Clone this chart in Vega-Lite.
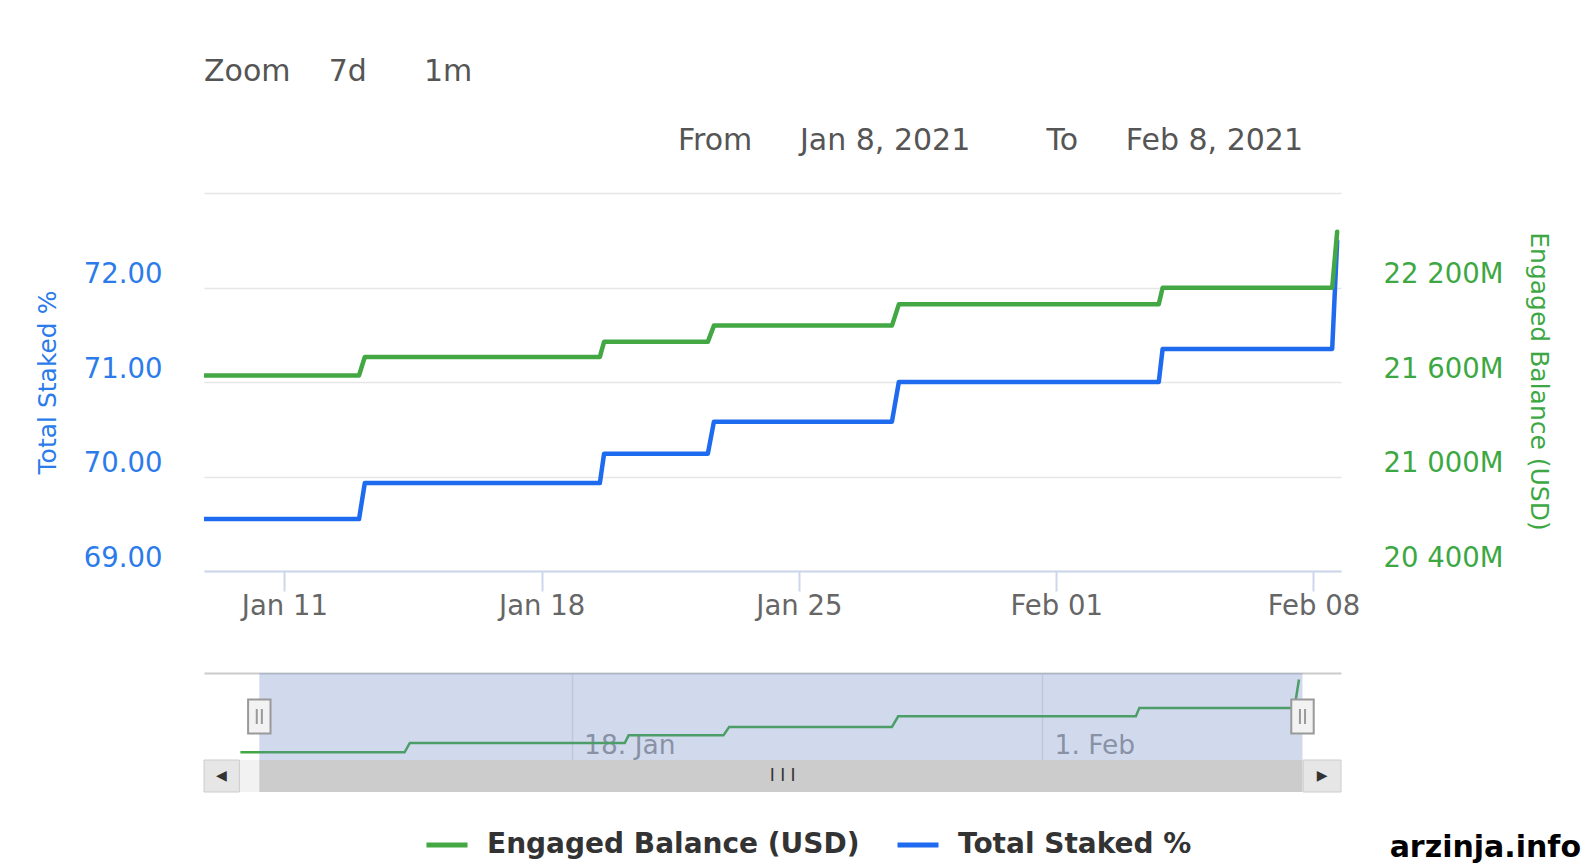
{
  "$schema": "https://vega.github.io/schema/vega-lite/v6.json",
  "padding": {"left": 35, "top": 57, "right": 0, "bottom": 0},
  "title": {
    "text": "Zoom\u00a0\u00a0\u00a0\u00a07d\u00a0\u00a0\u00a0\u00a0\u00a0\u00a01m",
    "anchor": "start",
    "frame": "group",
    "offset": 39,
    "font": "DejaVu Sans",
    "fontSize": 30,
    "fontWeight": "normal",
    "color": "#555555"
  },
  "datasets": {
    "series": [
      {"t": "2021-01-08T03:30:00Z", "series": "Total Staked %", "value": 69.55},
      {"t": "2021-01-13T00:45:00Z", "series": "Total Staked %", "value": 69.55},
      {"t": "2021-01-13T04:30:00Z", "series": "Total Staked %", "value": 69.93},
      {"t": "2021-01-19T14:00:00Z", "series": "Total Staked %", "value": 69.93},
      {"t": "2021-01-19T16:45:00Z", "series": "Total Staked %", "value": 70.24},
      {"t": "2021-01-22T12:30:00Z", "series": "Total Staked %", "value": 70.24},
      {"t": "2021-01-22T16:30:00Z", "series": "Total Staked %", "value": 70.58},
      {"t": "2021-01-27T12:45:00Z", "series": "Total Staked %", "value": 70.58},
      {"t": "2021-01-27T17:15:00Z", "series": "Total Staked %", "value": 71.0},
      {"t": "2021-02-03T19:00:00Z", "series": "Total Staked %", "value": 71.0},
      {"t": "2021-02-03T21:30:00Z", "series": "Total Staked %", "value": 71.35},
      {"t": "2021-02-08T12:15:00Z", "series": "Total Staked %", "value": 71.35},
      {"t": "2021-02-08T15:30:00Z", "series": "Total Staked %", "value": 72.49},
      {"t": "2021-01-08T03:30:00Z", "series": "Engaged Balance (USD)", "value": 21642},
      {"t": "2021-01-13T00:45:00Z", "series": "Engaged Balance (USD)", "value": 21642},
      {"t": "2021-01-13T04:30:00Z", "series": "Engaged Balance (USD)", "value": 21759},
      {"t": "2021-01-19T14:00:00Z", "series": "Engaged Balance (USD)", "value": 21759},
      {"t": "2021-01-19T16:45:00Z", "series": "Engaged Balance (USD)", "value": 21855},
      {"t": "2021-01-22T12:30:00Z", "series": "Engaged Balance (USD)", "value": 21855},
      {"t": "2021-01-22T16:30:00Z", "series": "Engaged Balance (USD)", "value": 21958},
      {"t": "2021-01-27T12:45:00Z", "series": "Engaged Balance (USD)", "value": 21958},
      {"t": "2021-01-27T17:15:00Z", "series": "Engaged Balance (USD)", "value": 22093},
      {"t": "2021-02-03T19:00:00Z", "series": "Engaged Balance (USD)", "value": 22093},
      {"t": "2021-02-03T21:30:00Z", "series": "Engaged Balance (USD)", "value": 22199},
      {"t": "2021-02-08T12:15:00Z", "series": "Engaged Balance (USD)", "value": 22199},
      {"t": "2021-02-08T15:30:00Z", "series": "Engaged Balance (USD)", "value": 22554}
    ],
    "selection": [
      {"from": "2021-01-08T17:00:00Z", "to": "2021-02-08T18:00:00Z"}
    ]
  },
  "spacing": 0,
  "bounds": "flush",
  "vconcat": [
    {
      "width": 1137,
      "height": 480,
      "title": {
        "text": "From\u00a0\u00a0\u00a0\u00a0\u00a0Jan 8, 2021\u00a0\u00a0\u00a0\u00a0\u00a0\u00a0\u00a0\u00a0To\u00a0\u00a0\u00a0\u00a0\u00a0Feb 8, 2021",
        "anchor": "end",
        "frame": "group",
        "dx": -38,
        "offset": 37,
        "font": "DejaVu Sans",
        "fontSize": 30,
        "fontWeight": "normal",
        "color": "#555555"
      },
      "data": {"name": "series"},
      "encoding": {
        "x": {
          "field": "t",
          "type": "temporal",
          "scale": {
            "type": "utc",
            "domain": [
              {"year": 2021, "month": "Jan", "date": 8, "hours": 19, "minutes": 30, "utc": true},
              {"year": 2021, "month": "Feb", "date": 8, "hours": 18, "minutes": 0, "utc": true}
            ]
          },
          "axis": {
            "orient": "bottom",
            "offset": -102,
            "values": [
              {"year": 2021, "month": "Jan", "date": 11, "utc": true},
              {"year": 2021, "month": "Jan", "date": 18, "utc": true},
              {"year": 2021, "month": "Jan", "date": 25, "utc": true},
              {"year": 2021, "month": "Feb", "date": 1, "utc": true},
              {"year": 2021, "month": "Feb", "date": 8, "utc": true}
            ],
            "labelExpr": "utcFormat(datum.value, '%b %d')",
            "labelFont": "DejaVu Sans",
            "labelFontSize": 27.5,
            "labelColor": "#666666",
            "labelBaseline": "alphabetic",
            "labelPadding": 23,
            "labelFlush": false,
            "tickSize": 20,
            "tickColor": "#ccd6eb",
            "tickWidth": 2,
            "domainColor": "#ccd6eb",
            "domainWidth": 2,
            "grid": false,
            "title": null
          }
        }
      },
      "layer": [
        {
          "transform": [{"filter": "datum.series === 'Total Staked %'"}],
          "mark": {"type": "line", "strokeWidth": 4.5, "clip": true, "strokeJoin": "round", "strokeCap": "round"},
          "encoding": {
            "y": {
              "field": "value",
              "type": "quantitative",
              "scale": {"domain": [69, 73], "range": [378, 0], "zero": false, "nice": false},
              "axis": {
                "orient": "left",
                "values": [69, 70, 71, 72, 73],
                "labelExpr": "datum.value == 73 ? '' : format(datum.value, '.2f')",
                "grid": true,
                "gridColor": "#e6e6e6",
                "gridWidth": 1.5,
                "domain": false,
                "ticks": false,
                "tickSize": 0,
                "labelPadding": 42,
                "labelFont": "DejaVu Sans",
                "labelFontSize": 27.5,
                "labelColor": "#2b7bea",
                "labelBaseline": "alphabetic",
                "labelOffset": -5,
                "title": "Total Staked %",
                "titleFont": "DejaVu Sans",
                "titleColor": "#2b7bea",
                "titleFontSize": 25,
                "titleFontWeight": "normal",
                "titleAngle": 270,
                "titleX": -149,
                "titleY": 189,
                "titleAlign": "center",
                "titleBaseline": "alphabetic"
              }
            },
            "color": {
              "field": "series",
              "type": "nominal",
              "scale": {"domain": ["Engaged Balance (USD)", "Total Staked %"], "range": ["#43a843", "#1f6bf0"]},
              "legend": {
                "orient": "none",
                "legendX": 220,
                "legendY": 629,
                "direction": "horizontal",
                "symbolType": "stroke",
                "symbolSize": 1681,
                "symbolStrokeWidth": 5,
                "labelFont": "DejaVu Sans",
                "labelFontWeight": "bold",
                "labelFontSize": 28,
                "labelColor": "#333333",
                "labelOffset": 17,
                "columnPadding": 27,
                "labelLimit": 600,
                "padding": 0,
                "title": null
              }
            }
          }
        },
        {
          "transform": [{"filter": "datum.series === 'Engaged Balance (USD)'"}],
          "mark": {"type": "line", "strokeWidth": 4.5, "clip": true, "strokeJoin": "round", "strokeCap": "round"},
          "encoding": {
            "y": {
              "field": "value",
              "type": "quantitative",
              "scale": {"domain": [20400, 22800], "range": [378, 0], "zero": false, "nice": false},
              "axis": {
                "orient": "right",
                "values": [20400, 21000, 21600, 22200, 22800],
                "labelExpr": "datum.value == 22800 ? '' : replace(format(datum.value, ','), ',', ' ') + 'M'",
                "grid": false,
                "domain": false,
                "ticks": false,
                "tickSize": 0,
                "labelPadding": 42,
                "labelFont": "DejaVu Sans",
                "labelFontSize": 27.5,
                "labelColor": "#3da843",
                "labelBaseline": "alphabetic",
                "labelOffset": -5,
                "title": "Engaged Balance (USD)",
                "titleFont": "DejaVu Sans",
                "titleColor": "#3da843",
                "titleFontSize": 25,
                "titleFontWeight": "normal",
                "titleAngle": 90,
                "titleX": 189,
                "titleY": 188,
                "titleAlign": "center",
                "titleBaseline": "alphabetic"
              }
            },
            "color": {
              "field": "series",
              "type": "nominal",
              "scale": {"domain": ["Engaged Balance (USD)", "Total Staked %"], "range": ["#43a843", "#1f6bf0"]},
              "legend": {
                "orient": "none",
                "legendX": 220,
                "legendY": 629,
                "direction": "horizontal",
                "symbolType": "stroke",
                "symbolSize": 1681,
                "symbolStrokeWidth": 5,
                "labelFont": "DejaVu Sans",
                "labelFontWeight": "bold",
                "labelFontSize": 28,
                "labelColor": "#333333",
                "labelOffset": 17,
                "columnPadding": 27,
                "labelLimit": 600,
                "padding": 0,
                "title": null
              }
            }
          }
        }
      ],
      "resolve": {"scale": {"y": "independent"}}
    },
    {
      "width": 1137,
      "height": 87,
      "layer": [
        {
          "data": {"name": "series"},
          "transform": [{"filter": "datum.series === 'Engaged Balance (USD)'"}],
          "mark": {"type": "line", "color": "#43a843", "strokeWidth": 2.5, "clip": true},
          "encoding": {
            "x": {
              "field": "t",
              "type": "temporal",
              "scale": {
                "type": "utc",
                "domain": [
                  {"year": 2021, "month": "Jan", "date": 7, "hours": 1, "minutes": 30, "utc": true},
                  {"year": 2021, "month": "Feb", "date": 9, "hours": 21, "minutes": 30, "utc": true}
                ]
              },
              "axis": {
                "orient": "bottom",
                "values": [
                  {"year": 2021, "month": "Jan", "date": 18, "utc": true},
                  {"year": 2021, "month": "Feb", "date": 1, "utc": true}
                ],
                "labelExpr": "utcFormat(datum.value, '%-d. %b')",
                "grid": true,
                "gridColor": "#e6e6e6",
                "gridWidth": 1.5,
                "domain": false,
                "ticks": false,
                "tickSize": 0,
                "labelPadding": -7,
                "labelBaseline": "alphabetic",
                "labelAlign": "left",
                "labelOffset": 12,
                "labelFont": "DejaVu Sans",
                "labelFontSize": 26.5,
                "labelColor": "#999999",
                "labelFlush": false,
                "title": null
              }
            },
            "y": {
              "field": "value",
              "type": "quantitative",
              "scale": {"domain": [21546, 22636], "zero": false, "nice": false},
              "axis": {
                "values": [22636],
                "grid": true,
                "gridColor": "#cccccc",
                "gridWidth": 2,
                "labels": false,
                "ticks": false,
                "domain": false,
                "title": null
              }
            }
          }
        },
        {
          "data": {"name": "selection"},
          "mark": {"type": "rect", "color": "#6685c2", "opacity": 0.3},
          "encoding": {
            "x": {"field": "from", "type": "temporal"},
            "x2": {"field": "to"}
          }
        },
        {
          "data": {"name": "selection"},
          "mark": {"type": "point", "shape": "M-0.66,-1L0.66,-1L0.66,1L-0.66,1Z", "size": 1156, "filled": true, "fill": "#f2f2f2", "stroke": "#999999", "strokeWidth": 2, "opacity": 1},
          "encoding": {"x": {"field": "from", "type": "temporal"}}
        },
        {
          "data": {"name": "selection"},
          "mark": {"type": "point", "shape": "M-0.66,-1L0.66,-1L0.66,1L-0.66,1Z", "size": 1156, "filled": true, "fill": "#f2f2f2", "stroke": "#999999", "strokeWidth": 2, "opacity": 1},
          "encoding": {"x": {"field": "to", "type": "temporal"}}
        },
        {
          "data": {"name": "selection"},
          "mark": {"type": "point", "shape": "M-0.15,-0.44L-0.15,0.44M0.15,-0.44L0.15,0.44", "size": 1156, "filled": false, "fill": "transparent", "stroke": "#999999", "strokeWidth": 2, "opacity": 1},
          "encoding": {"x": {"field": "from", "type": "temporal"}}
        },
        {
          "data": {"name": "selection"},
          "mark": {"type": "point", "shape": "M-0.15,-0.44L-0.15,0.44M0.15,-0.44L0.15,0.44", "size": 1156, "filled": false, "fill": "transparent", "stroke": "#999999", "strokeWidth": 2, "opacity": 1},
          "encoding": {"x": {"field": "to", "type": "temporal"}}
        }
      ]
    },
    {
      "width": 1137,
      "height": 32,
      "data": {"name": "selection"},
      "view": {"fill": "#f2f2f2", "stroke": null},
      "title": {
        "text": "arzinja.info",
        "orient": "bottom",
        "anchor": "end",
        "frame": "group",
        "dx": 240,
        "offset": 40,
        "baseline": "top",
        "font": "DejaVu Sans",
        "fontSize": 30,
        "fontWeight": "bold",
        "color": "#000000"
      },
      "layer": [
        {
          "mark": {"type": "rect", "color": "#cccccc"},
          "encoding": {
            "x": {
              "field": "from",
              "type": "temporal",
              "scale": {
                "type": "utc",
                "domain": [
                  {"year": 2021, "month": "Jan", "date": 7, "hours": 1, "minutes": 30, "utc": true},
                  {"year": 2021, "month": "Feb", "date": 9, "hours": 21, "minutes": 30, "utc": true}
                ]
              },
              "axis": null
            },
            "x2": {"field": "to"}
          }
        },
        {
          "mark": {"type": "rect", "fill": "#e6e6e6", "stroke": "#cccccc", "strokeWidth": 1},
          "encoding": {
            "x": {"datum": {"year": 2021, "month": "Jan", "date": 7, "hours": 1, "minutes": 30, "utc": true}, "type": "temporal"},
            "x2": {"datum": {"year": 2021, "month": "Jan", "date": 8, "hours": 2, "minutes": 45, "utc": true}}
          }
        },
        {
          "mark": {"type": "rect", "fill": "#e6e6e6", "stroke": "#cccccc", "strokeWidth": 1},
          "encoding": {
            "x": {"datum": {"year": 2021, "month": "Feb", "date": 8, "hours": 18, "minutes": 30, "utc": true}, "type": "temporal"},
            "x2": {"datum": {"year": 2021, "month": "Feb", "date": 9, "hours": 21, "minutes": 30, "utc": true}}
          }
        },
        {
          "mark": {"type": "text", "text": "◀", "font": "DejaVu Sans", "fontSize": 14, "color": "#333333"},
          "encoding": {"x": {"datum": {"year": 2021, "month": "Jan", "date": 7, "hours": 14, "minutes": 0, "utc": true}, "type": "temporal"}}
        },
        {
          "mark": {"type": "text", "text": "▶", "font": "DejaVu Sans", "fontSize": 14, "color": "#333333"},
          "encoding": {"x": {"datum": {"year": 2021, "month": "Feb", "date": 9, "hours": 8, "minutes": 0, "utc": true}, "type": "temporal"}}
        },
        {
          "mark": {"type": "text", "text": "I I I", "font": "DejaVu Sans", "fontSize": 17, "color": "#333333"},
          "encoding": {"x": {"datum": {"year": 2021, "month": "Jan", "date": 24, "hours": 6, "minutes": 45, "utc": true}, "type": "temporal"}}
        }
      ]
    }
  ],
  "config": {
    "view": {"stroke": null},
    "font": "DejaVu Sans",
    "title": {"fontWeight": "normal"}
  }
}
